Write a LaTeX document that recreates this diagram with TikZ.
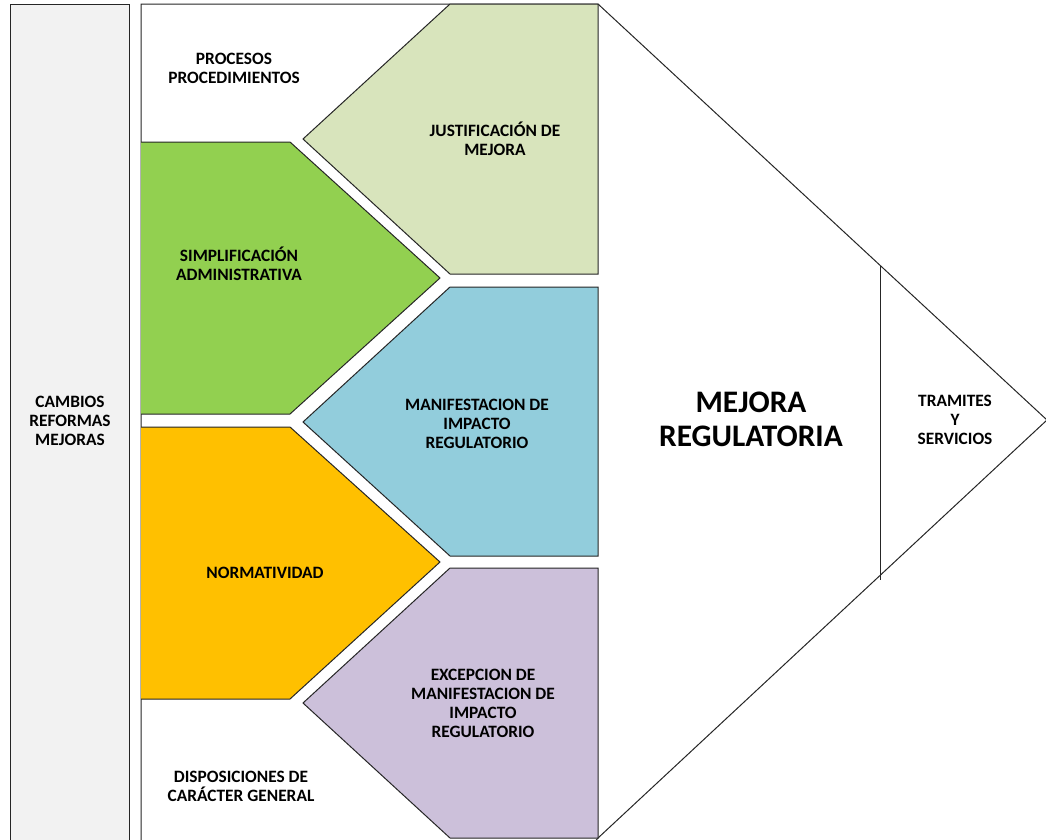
\documentclass[tikz,border=0pt]{standalone}
\usepackage{fontspec}
\setmainfont{Carlito}
\definecolor{grayfill}{HTML}{F2F2F2}
\definecolor{greenfill}{HTML}{92D050}
\definecolor{orangefill}{HTML}{FFC000}
\definecolor{lgreenfill}{HTML}{D8E4BC}
\definecolor{bluefill}{HTML}{92CDDC}
\definecolor{purplefill}{HTML}{CCC0DA}
\definecolor{edge}{HTML}{262626}
\begin{document}
\begin{tikzpicture}[x=0.75pt,y=-0.75pt,
  shapeline/.style={draw=edge,line width=0.75pt,line join=miter},
  lbl/.style={align=center,font=\fontsize{13}{14.3}\selectfont\bfseries,text=black,inner sep=0pt},
  biglbl/.style={align=center,font=\fontsize{23.5}{25.5}\selectfont\bfseries,text=black,inner sep=0pt}]
\useasboundingbox (0,0) rectangle (1046,839);
\clip (0,0) rectangle (1046,839);
% left bar
\draw[shapeline,fill=grayfill] (10,860) -- (10,4) -- (129,4) -- (129,860);
% big arrow
\draw[shapeline,fill=white] (141,860) -- (141,4) -- (598,4) -- (1047,420) -- (598,838) -- (580,860);
\draw[shapeline] (880,266) -- (880,580);
% left pentagons
\draw[shapeline,fill=greenfill] (141,142) -- (290,142) -- (440,278) -- (290,414) -- (141,414);
\draw[shapeline,fill=orangefill] (141,427) -- (290,427) -- (440,562) -- (290,699) -- (141,699);
% right chevrons
\draw[shapeline,fill=lgreenfill] (450,4) -- (598,4) -- (598,274) -- (450,274) -- (303,139) -- cycle;
\draw[shapeline,fill=bluefill] (450,287) -- (598,287) -- (598,556) -- (450,556) -- (303,422) -- cycle;
\draw[shapeline,fill=purplefill] (450,568) -- (598,568) -- (598,838) -- (450,838) -- (303,703) -- cycle;
% labels
\node[lbl] (cambios) at (70,421) {CAMBIOS\\REFORMAS\\MEJORAS};
\node[lbl] (procesos) at (234,68) {PROCESOS\\PROCEDIMIENTOS};
\node[lbl] (justif) at (495,139) {JUSTIFICACIÓN DE\\MEJORA};
\node[lbl] (simpl) at (239,264) {SIMPLIFICACIÓN\\ADMINISTRATIVA};
\node[lbl] (manif) at (477,424) {MANIFESTACION DE\\IMPACTO\\REGULATORIO};
\node[lbl] (norma) at (265,573) {NORMATIVIDAD};
\node[lbl] (excep) at (483,703) {EXCEPCION DE\\MANIFESTACION DE\\IMPACTO\\REGULATORIO};
\node[lbl] (dispos) at (241,786) {DISPOSICIONES DE\\CARÁCTER GENERAL};
\node[biglbl] (mejora) at (751,419) {MEJORA\\REGULATORIA};
\node[lbl] (tramites) at (955,420) {TRAMITES\\Y\\SERVICIOS};
\end{tikzpicture}
\end{document}
